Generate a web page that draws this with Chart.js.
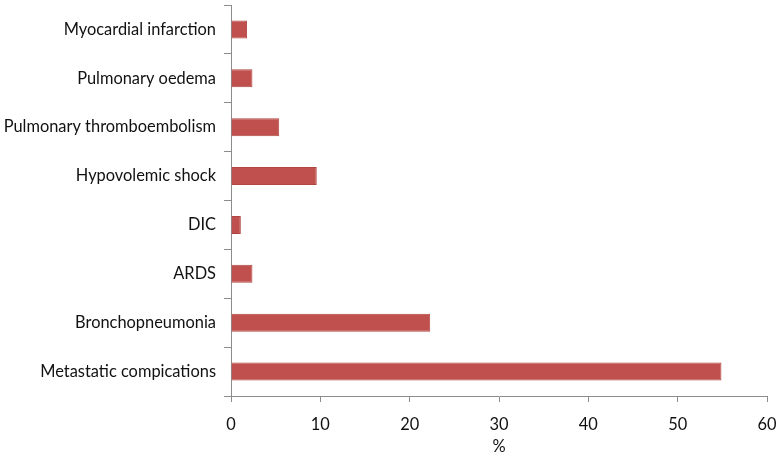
<!DOCTYPE html>
<html>
<head>
  <script src="https://cdn.jsdelivr.net/npm/chart.js"></script>
  <style>
    body { margin: 0; background: #fff; }
    #wrap { width: 780px; height: 457px; }
  </style>
</head>
<body>
  <div id="wrap"><canvas id="chart"></canvas></div>
  <script>
    const causes = ['Myocardial infarction', 'Pulmonary oedema', 'Pulmonary thromboembolism', 'Hypovolemic shock',
      'DIC', 'ARDS', 'Bronchopneumonia', 'Metastatic compications'];
    const percents = [1.8, 2.4, 5.4, 9.6, 1.1, 2.4, 22.3, 54.9];
    const xTicks = [0, 10, 20, 30, 40, 50, 60];

    const axisGray = '#8c8c8c';
    const textColor = '#111';
    const font = { family: 'Lato', size: 16.4 };

    new Chart(document.getElementById('chart'), {
      type: 'bar',
      data: {
        labels: causes,
        datasets: [{
          data: percents,
          backgroundColor: '#c0504d',
          borderColor: '#b04542',
          borderWidth: 1,
          barPercentage: 0.37,
          categoryPercentage: 1
        }]
      },
      options: {
        indexAxis: 'y',
        responsive: true,
        maintainAspectRatio: false,
        animation: false,
        layout: { padding: { left: 0, right: 13, top: 5, bottom: 0 } },
        plugins: { legend: { display: false }, tooltip: { enabled: false } },
        scales: {
          x: {
            min: xTicks[0],
            max: xTicks[xTicks.length - 1],
            afterBuildTicks: axis => { axis.ticks = xTicks.map(v => ({ value: v })); },
            afterFit: axis => { axis.height = 61; axis.paddingLeft = 0; axis.paddingRight = 0; },
            grid: { drawOnChartArea: false, drawTicks: true, tickLength: 6, color: axisGray },
            border: { color: axisGray, width: 1 },
            ticks: { color: textColor, font: font, padding: 13 },
            title: { display: true, text: '%', color: textColor, font: font, padding: { top: 0, bottom: 0 } }
          },
          y: {
            afterFit: axis => { axis.width = 231; axis.paddingTop = 0; axis.paddingBottom = 0; },
            grid: { drawOnChartArea: false, drawTicks: true, tickLength: 7, color: axisGray, offset: true },
            border: { color: axisGray, width: 1 },
            ticks: { color: textColor, font: font, padding: 8 }
          }
        }
      }
    });
  </script>
</body>
</html>
